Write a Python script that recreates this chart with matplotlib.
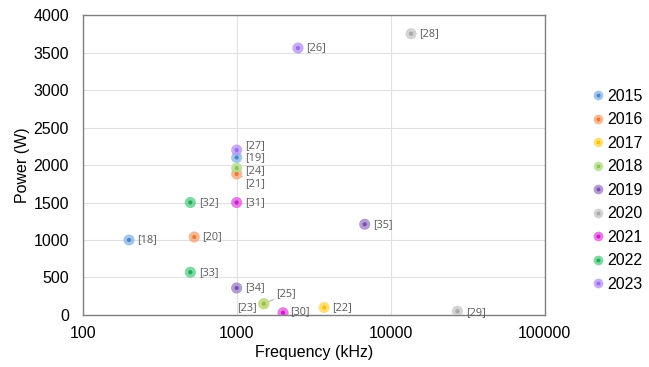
import matplotlib
matplotlib.use("Agg")
import matplotlib.pyplot as plt
from matplotlib.lines import Line2D
from matplotlib.legend_handler import HandlerTuple

plt.rcParams["font.family"] = ["Liberation Sans", "DejaVu Sans"]

# Reported wireless power transfer systems: reference, year, frequency, power
refs = [18, 19, 20, 21, 22, 23, 24, 25, 26, 27, 28, 29, 30, 31, 32, 33, 34, 35]
years = [2015, 2015, 2016, 2016, 2017, 2017, 2018, 2018, 2023, 2023,
         2020, 2020, 2021, 2021, 2022, 2022, 2019, 2019]
freq_khz = [200, 1000, 530, 1000, 3700, 1500, 1000, 1500, 2500, 1000,
            13560, 27120, 2000, 1000, 500, 500, 1000, 6780]
power_w = [1000, 2100, 1040, 1880, 100, 150, 1960, 150, 3560, 2200,
           3750, 50, 30, 1500, 1500, 570, 360, 1210]

year_list = [2015, 2016, 2017, 2018, 2019, 2020, 2021, 2022, 2023]
# (halo, centre) colour per year
year_colors = {
    2015: ("#8db8e6", "#4a86c8"),
    2016: ("#f5a77a", "#ec7a35"),
    2017: ("#ffd85a", "#ffc000"),
    2018: ("#b7dd8e", "#8fc25f"),
    2019: ("#a283c8", "#7a4fb0"),
    2020: ("#c8c8c8", "#a8a8a8"),
    2021: ("#e35ae3", "#c81ec8"),
    2022: ("#5ccf8a", "#27a85a"),
    2023: ("#b995f7", "#9a6cf0"),
}

# label offsets in points (dx, dy), alignment, leader line
label_style = {
    21: ((6, -7), "left", True),
    23: ((-5, -2.5), "right", False),
    24: ((6, -2), "left", False),
    25: ((9, 7), "left", True),
    27: ((6, 3), "left", False),
    30: ((5, 1), "left", False),
    29: ((6, -1), "left", False),
}

fig = plt.figure(figsize=(6.49, 3.67), dpi=100)
ax = fig.add_axes([0.1274, 0.1417, 0.8393 - 0.1274, 0.9591 - 0.1417])

for f, p, y in zip(freq_khz, power_w, years):
    halo, core = year_colors[y]
    ax.scatter(f, p, s=64, color=halo, alpha=0.8, edgecolors="none", zorder=3)
    ax.scatter(f, p, s=9, color=core, edgecolors="none", zorder=4)

for r, f, p in zip(refs, freq_khz, power_w):
    (dx, dy), ha, leader = label_style.get(r, ((6, 0), "left", False))
    arrow = dict(arrowstyle="-", color="#a6a6a6", lw=0.7,
                 shrinkA=0, shrinkB=4) if leader else None
    ax.annotate(f"[{r}]", (f, p), xytext=(dx, dy), textcoords="offset points",
                ha=ha, va="center", fontsize=7.8, color="#595959",
                family=["Open Sans", "DejaVu Sans"], arrowprops=arrow, zorder=5)

ax.set_xscale("log")
ax.set_xlim(100, 100000)
ax.set_ylim(0, 4000)
ax.set_yticks(range(0, 4001, 500))
ax.set_xticks([100, 1000, 10000, 100000])
ax.set_xticklabels(["100", "1000", "10000", "100000"])
ax.minorticks_off()
ax.tick_params(axis="both", length=0, labelsize=11.5)
ax.tick_params(axis="y", pad=10)
ax.tick_params(axis="x", pad=8)
ax.grid(True, color="#e0e0e0", lw=0.8, zorder=0)
for s in ax.spines.values():
    s.set_color("#7f7f7f")
    s.set_linewidth(1.0)

ax.set_xlabel("Frequency (kHz)", fontsize=11.5, labelpad=3)
ax.set_ylabel("Power (W)", fontsize=11.5, labelpad=2)

handles = []
for y in year_list:
    halo, core = year_colors[y]
    h1 = Line2D([], [], ls="none", marker="o", ms=7, mfc=halo, mec="none",
                alpha=0.8)
    h2 = Line2D([], [], ls="none", marker="o", ms=2.8, mfc=core, mec="none")
    handles.append((h1, h2))

fig.legend(handles, [str(y) for y in year_list],
           handler_map={tuple: HandlerTuple(ndivide=1, pad=0)},
           loc="upper left", bbox_to_anchor=(0.902, 0.775),
           frameon=False, fontsize=11.5, handlelength=0.8,
           handletextpad=0.15, labelspacing=0.53, borderaxespad=0)

fig.savefig("out.png", dpi=100)
